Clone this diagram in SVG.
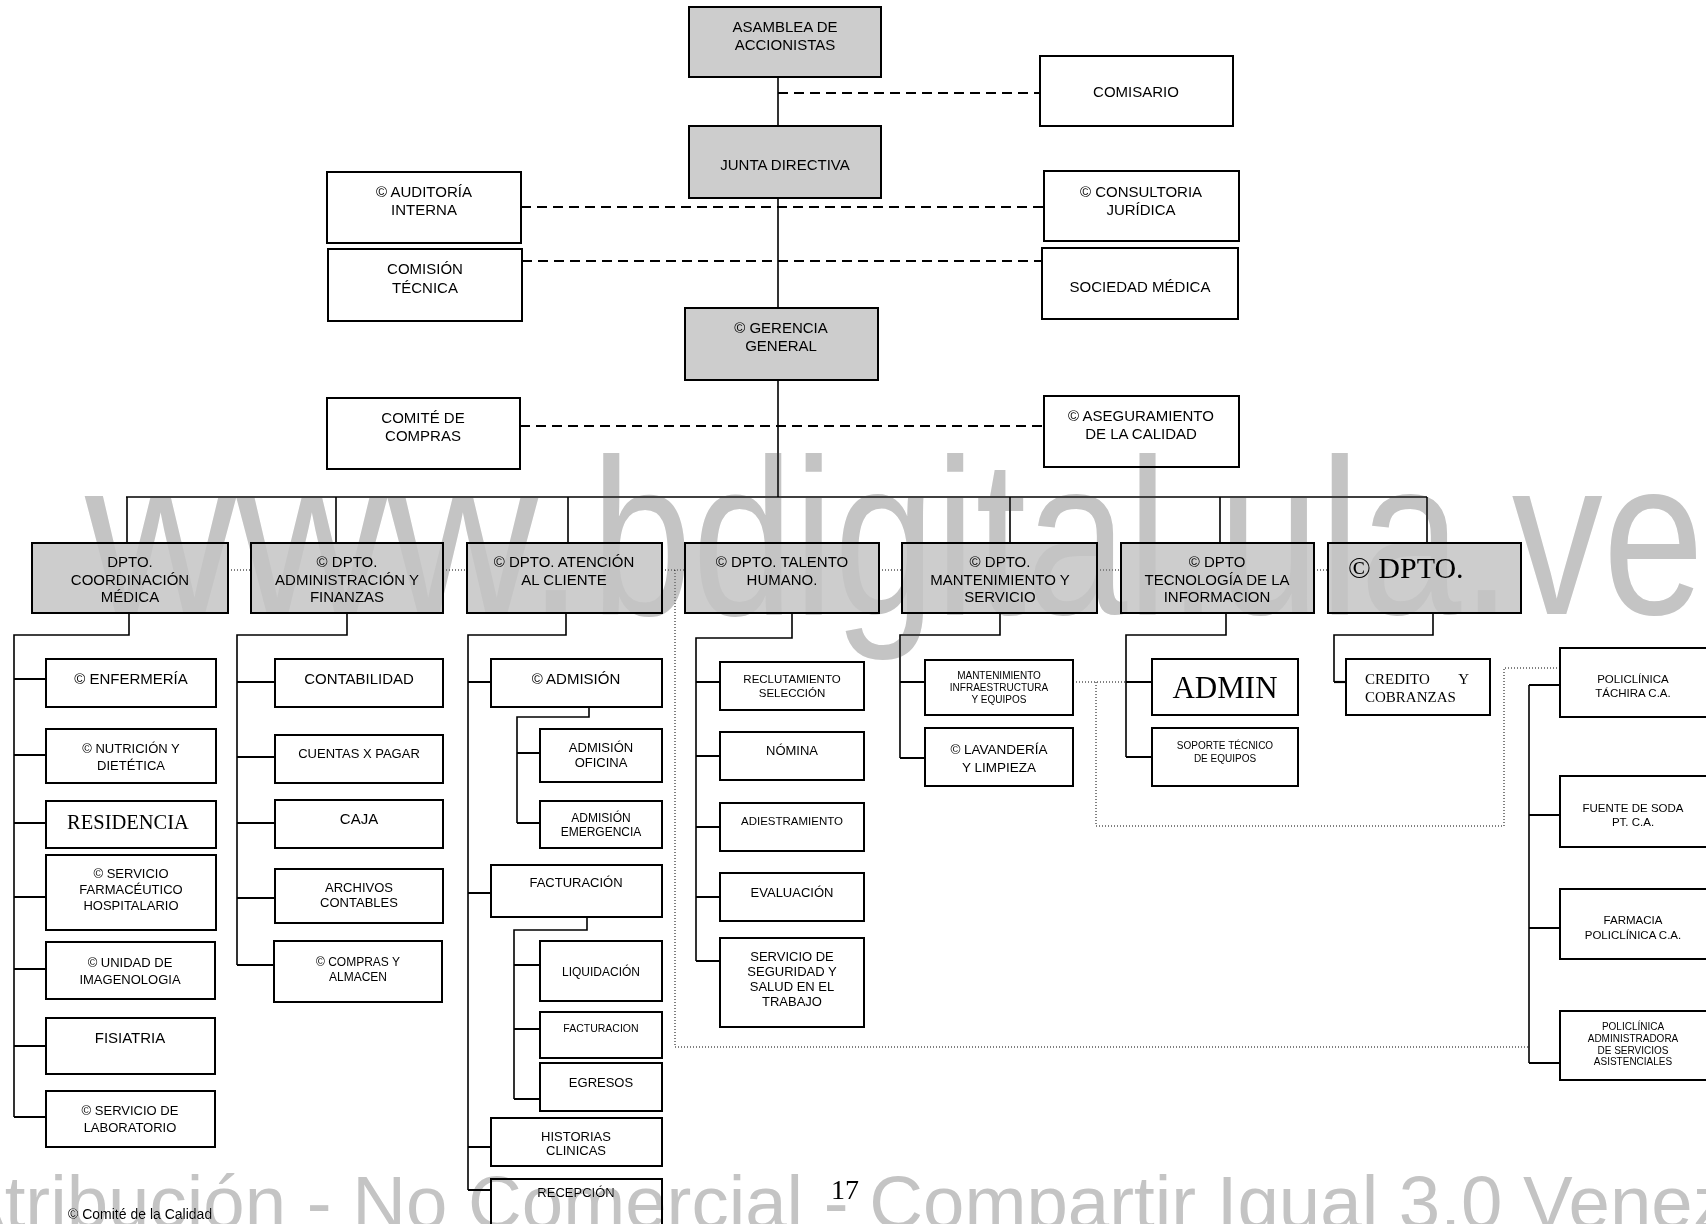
<svg xmlns="http://www.w3.org/2000/svg" width="1706" height="1224" viewBox="0 0 1706 1224">
  <style>
    .box { fill: #ffffff; stroke: #000000; stroke-width: 2; }
    .gbox { fill: #cdcdcd; stroke: #000000; stroke-width: 2; }
    text { font-family: "Liberation Sans", Arial, sans-serif; fill: #000000; text-anchor: middle; }
    .serif { font-family: "Liberation Serif", "Times New Roman", serif; }
    .f15 { font-size: 15px; }
    .f13 { font-size: 13px; }
    .f12 { font-size: 12px; }
    .f115 { font-size: 11.5px; }
    .f10 { font-size: 10px; }
    .ln { stroke: #000000; stroke-width: 1.6; fill: none; }
    .stub { stroke: #000000; stroke-width: 2.2; fill: none; }
    .dash { stroke: #000000; stroke-width: 2; stroke-dasharray: 10 6; fill: none; }
    .dot { stroke: #000000; stroke-width: 1; stroke-dasharray: 1 2; fill: none; }
    .wm { fill: #c4c4c4; text-anchor: start; mix-blend-mode: darken; }
  </style>

  <rect x="0" y="0" width="1706" height="1224" fill="#ffffff"/>

  <!-- connectors -->
  <g id="connectors">
    <!-- main spine and department bus -->
    <path class="ln" d="M778 77 V497 M126 497 H1427 M127 497 V543 M336 497 V543 M568 497 V543 M1010 497 V543 M1220 497 V543 M1427 497 V543"/>
    <!-- staff links -->
    <path class="dash" d="M778 93 H1040 M521 207 H1044 M522 261 H1042 M520 426 H1044"/>
    <!-- links between departments -->
    <path class="dot" d="M228 570 H251 M443 570 H467 M662 570 H685 M879 570 H902 M1097 570 H1121 M1314 570 H1328"/>
    <path class="dot" d="M675 570 V1047 H1528"/>
    <path class="dot" d="M1073 682 H1126 M1096 682 V826 H1504 V668 H1560"/>

    <!-- coordinación médica -->
    <path class="ln" d="M129 613 V635 H14 V1117"/>
    <path class="stub" d="M14 679 H46 M14 755 H46 M14 823 H46 M14 897 H46 M14 969 H46 M14 1046 H46 M14 1117 H46"/>
    <!-- administración y finanzas -->
    <path class="ln" d="M347 613 V635 H237 V965"/>
    <path class="stub" d="M237 682 H275 M237 757 H275 M237 823 H275 M237 898 H275 M237 965 H275"/>
    <!-- atención al cliente -->
    <path class="ln" d="M566 613 V635 H468 V1190"/>
    <path class="stub" d="M468 682 H491 M468 893 H491 M468 1147 H491 M468 1190 H491"/>
    <path class="ln" d="M589 707 V717 H517 V823"/>
    <path class="stub" d="M517 753 H540 M517 823 H540"/>
    <path class="ln" d="M587 917 V930 H514 V1099"/>
    <path class="stub" d="M514 965 H540 M514 1029 H540 M514 1099 H540"/>
    <!-- talento humano -->
    <path class="ln" d="M792 613 V638 H696 V961"/>
    <path class="stub" d="M696 682 H720 M696 756 H720 M696 827 H720 M696 897 H720 M696 961 H720"/>
    <!-- mantenimiento y servicio -->
    <path class="ln" d="M1000 613 V635 H900 V758"/>
    <path class="stub" d="M900 682 H925 M900 758 H925"/>
    <!-- tecnología de la información -->
    <path class="ln" d="M1226 613 V635 H1126 V757"/>
    <path class="stub" d="M1126 682 H1152 M1126 757 H1152"/>
    <!-- dpto. crédito -->
    <path class="ln" d="M1433 613 V635 H1334 V682"/>
    <path class="stub" d="M1334 682 H1346"/>
    <!-- empresas filiales -->
    <path class="ln" d="M1529 685 V1063"/>
    <path class="stub" d="M1529 685 H1560 M1529 815 H1560 M1529 928 H1560 M1529 1063 H1560"/>
  </g>

  <!-- top management -->
  <g id="asamblea"><rect class="gbox" x="689" y="7" width="192" height="70"/>
    <text class="f15" x="785" y="32">ASAMBLEA DE</text><text class="f15" x="785" y="50">ACCIONISTAS</text></g>
  <g id="comisario"><rect class="box" x="1040" y="56" width="193" height="70"/>
    <text class="f15" x="1136" y="97">COMISARIO</text></g>
  <g id="junta"><rect class="gbox" x="689" y="126" width="192" height="72"/>
    <text class="f15" x="785" y="170">JUNTA DIRECTIVA</text></g>
  <g id="auditoria"><rect class="box" x="327" y="172" width="194" height="71"/>
    <text class="f15" x="424" y="197">© AUDITORÍA</text><text class="f15" x="424" y="215">INTERNA</text></g>
  <g id="consultoria"><rect class="box" x="1044" y="171" width="195" height="70"/>
    <text class="f15" x="1141" y="197">© CONSULTORIA</text><text class="f15" x="1141" y="215">JURÍDICA</text></g>
  <g id="comision"><rect class="box" x="328" y="249" width="194" height="72"/>
    <text class="f15" x="425" y="274">COMISIÓN</text><text class="f15" x="425" y="293">TÉCNICA</text></g>
  <g id="sociedad"><rect class="box" x="1042" y="248" width="196" height="71"/>
    <text class="f15" x="1140" y="292">SOCIEDAD MÉDICA</text></g>
  <g id="gerencia"><rect class="gbox" x="685" y="308" width="193" height="72"/>
    <text class="f15" x="781" y="333">© GERENCIA</text><text class="f15" x="781" y="351">GENERAL</text></g>
  <g id="comite-compras"><rect class="box" x="327" y="398" width="193" height="71"/>
    <text class="f15" x="423" y="423">COMITÉ DE</text><text class="f15" x="423" y="441">COMPRAS</text></g>
  <g id="aseguramiento"><rect class="box" x="1044" y="396" width="195" height="71"/>
    <text class="f15" x="1141" y="421">© ASEGURAMIENTO</text><text class="f15" x="1141" y="439">DE LA CALIDAD</text></g>

  <!-- departments -->
  <g id="dpto-coordinacion"><rect class="gbox" x="32" y="543" width="196" height="70"/>
    <text class="f15" x="130" y="567">DPTO.</text><text class="f15" x="130" y="585">COORDINACIÓN</text><text class="f15" x="130" y="602">MÉDICA</text></g>
  <g id="dpto-administracion"><rect class="gbox" x="251" y="543" width="192" height="70"/>
    <text class="f15" x="347" y="567">© DPTO.</text><text class="f15" x="347" y="585">ADMINISTRACIÓN Y</text><text class="f15" x="347" y="602">FINANZAS</text></g>
  <g id="dpto-atencion"><rect class="gbox" x="467" y="543" width="195" height="70"/>
    <text class="f15" x="564" y="567">© DPTO. ATENCIÓN</text><text class="f15" x="564" y="585">AL CLIENTE</text></g>
  <g id="dpto-talento"><rect class="gbox" x="685" y="543" width="194" height="70"/>
    <text class="f15" x="782" y="567">© DPTO. TALENTO</text><text class="f15" x="782" y="585">HUMANO.</text></g>
  <g id="dpto-mantenimiento"><rect class="gbox" x="902" y="543" width="195" height="70"/>
    <text class="f15" x="1000" y="567">© DPTO.</text><text class="f15" x="1000" y="585">MANTENIMIENTO Y</text><text class="f15" x="1000" y="602">SERVICIO</text></g>
  <g id="dpto-tecnologia"><rect class="gbox" x="1121" y="543" width="193" height="70"/>
    <text class="f15" x="1217" y="567">© DPTO</text><text class="f15" x="1217" y="585">TECNOLOGÍA DE LA</text><text class="f15" x="1217" y="602">INFORMACION</text></g>
  <g id="dpto-credito"><rect class="gbox" x="1328" y="543" width="193" height="70"/>
    <text class="serif" x="1348" y="578" font-size="30" style="text-anchor:start">© DPTO.</text></g>

  <!-- coordinación médica units -->
  <g id="enfermeria"><rect class="box" x="46" y="659" width="170" height="48"/>
    <text class="f15" x="131" y="684">© ENFERMERÍA</text></g>
  <g id="nutricion"><rect class="box" x="46" y="729" width="170" height="54"/>
    <text class="f13" x="131" y="753">© NUTRICIÓN Y</text><text class="f13" x="131" y="770">DIETÉTICA</text></g>
  <g id="residencia"><rect class="box" x="46" y="801" width="170" height="47"/>
    <text class="serif" x="128" y="829" font-size="20.5">RESIDENCIA</text></g>
  <g id="farmaceutico"><rect class="box" x="46" y="855" width="170" height="75"/>
    <text class="f13" x="131" y="878">© SERVICIO</text><text class="f13" x="131" y="894">FARMACÉUTICO</text><text class="f13" x="131" y="910">HOSPITALARIO</text></g>
  <g id="imagenologia"><rect class="box" x="46" y="942" width="169" height="57"/>
    <text class="f13" x="130" y="967">© UNIDAD DE</text><text class="f13" x="130" y="984">IMAGENOLOGIA</text></g>
  <g id="fisiatria"><rect class="box" x="46" y="1018" width="169" height="56"/>
    <text class="f15" x="130" y="1043">FISIATRIA</text></g>
  <g id="laboratorio"><rect class="box" x="46" y="1091" width="169" height="56"/>
    <text class="f13" x="130" y="1115">© SERVICIO DE</text><text class="f13" x="130" y="1132">LABORATORIO</text></g>

  <!-- administración y finanzas units -->
  <g id="contabilidad"><rect class="box" x="275" y="659" width="168" height="48"/>
    <text class="f15" x="359" y="684">CONTABILIDAD</text></g>
  <g id="cuentas-pagar"><rect class="box" x="275" y="735" width="168" height="48"/>
    <text class="f13" x="359" y="758">CUENTAS X PAGAR</text></g>
  <g id="caja"><rect class="box" x="275" y="800" width="168" height="48"/>
    <text class="f15" x="359" y="824">CAJA</text></g>
  <g id="archivos"><rect class="box" x="275" y="869" width="168" height="54"/>
    <text class="f13" x="359" y="892">ARCHIVOS</text><text class="f13" x="359" y="907">CONTABLES</text></g>
  <g id="compras-almacen"><rect class="box" x="274" y="941" width="168" height="61"/>
    <text class="f12" x="358" y="966">© COMPRAS Y</text><text class="f12" x="358" y="981">ALMACEN</text></g>

  <!-- atención al cliente units -->
  <g id="admision"><rect class="box" x="491" y="659" width="171" height="48"/>
    <text class="f15" x="576" y="684">© ADMISIÓN</text></g>
  <g id="admision-oficina"><rect class="box" x="540" y="729" width="122" height="53"/>
    <text class="f13" x="601" y="752">ADMISIÓN</text><text class="f13" x="601" y="767">OFICINA</text></g>
  <g id="admision-emergencia"><rect class="box" x="540" y="801" width="122" height="47"/>
    <text class="f12" x="601" y="822">ADMISIÓN</text><text class="f12" x="601" y="836">EMERGENCIA</text></g>
  <g id="facturacion"><rect class="box" x="491" y="865" width="171" height="52"/>
    <text class="f13" x="576" y="887">FACTURACIÓN</text></g>
  <g id="liquidacion"><rect class="box" x="540" y="941" width="122" height="60"/>
    <text class="f12" x="601" y="976">LIQUIDACIÓN</text></g>
  <g id="facturacion-sub"><rect class="box" x="540" y="1012" width="122" height="46"/>
    <text x="601" y="1032" font-size="10.5">FACTURACION</text></g>
  <g id="egresos"><rect class="box" x="540" y="1063" width="122" height="48"/>
    <text class="f13" x="601" y="1087">EGRESOS</text></g>
  <g id="historias"><rect class="box" x="491" y="1118" width="171" height="48"/>
    <text class="f13" x="576" y="1141">HISTORIAS</text><text class="f13" x="576" y="1155">CLINICAS</text></g>
  <g id="recepcion"><rect class="box" x="491" y="1179" width="171" height="50"/>
    <text class="f13" x="576" y="1197">RECEPCIÓN</text></g>

  <!-- talento humano units -->
  <g id="reclutamiento"><rect class="box" x="720" y="662" width="144" height="48"/>
    <text class="f115" x="792" y="683">RECLUTAMIENTO</text><text class="f115" x="792" y="697">SELECCIÓN</text></g>
  <g id="nomina"><rect class="box" x="720" y="732" width="144" height="48"/>
    <text class="f13" x="792" y="755">NÓMINA</text></g>
  <g id="adiestramiento"><rect class="box" x="720" y="803" width="144" height="48"/>
    <text class="f115" x="792" y="825">ADIESTRAMIENTO</text></g>
  <g id="evaluacion"><rect class="box" x="720" y="873" width="144" height="48"/>
    <text class="f13" x="792" y="897">EVALUACIÓN</text></g>
  <g id="seguridad"><rect class="box" x="720" y="938" width="144" height="89"/>
    <text class="f13" x="792" y="961">SERVICIO  DE</text><text class="f13" x="792" y="976">SEGURIDAD Y</text><text class="f13" x="792" y="991">SALUD EN EL</text><text class="f13" x="792" y="1006">TRABAJO</text></g>

  <!-- mantenimiento units -->
  <g id="infraestructura"><rect class="box" x="925" y="660" width="148" height="55"/>
    <text class="f10" x="999" y="679">MANTENIMIENTO</text><text class="f10" x="999" y="691">INFRAESTRUCTURA</text><text class="f10" x="999" y="703">Y EQUIPOS</text></g>
  <g id="lavanderia"><rect class="box" x="925" y="728" width="148" height="58"/>
    <text x="999" y="754" font-size="13.5">© LAVANDERÍA</text><text x="999" y="772" font-size="13.5">Y LIMPIEZA</text></g>

  <!-- tecnología units -->
  <g id="admin"><rect class="box" x="1152" y="659" width="146" height="56"/>
    <text class="serif" x="1225" y="698" font-size="31">ADMIN</text></g>
  <g id="soporte"><rect class="box" x="1152" y="728" width="146" height="58"/>
    <text class="f10" x="1225" y="749">SOPORTE TÉCNICO</text><text class="f10" x="1225" y="762">DE EQUIPOS</text></g>

  <!-- crédito units -->
  <g id="credito"><rect class="box" x="1346" y="659" width="144" height="56"/>
    <text class="serif" x="1365" y="684" font-size="15" style="text-anchor:start">CREDITO</text>
    <text class="serif" x="1469" y="684" font-size="15" style="text-anchor:end">Y</text>
    <text class="serif" x="1365" y="702" font-size="15" style="text-anchor:start">COBRANZAS</text></g>

  <!-- affiliated companies -->
  <g id="policlinica-tachira"><rect class="box" x="1560" y="648" width="152" height="69"/>
    <text class="f115" x="1633" y="683">POLICLÍNICA</text><text class="f115" x="1633" y="697">TÁCHIRA C.A.</text></g>
  <g id="fuente-soda"><rect class="box" x="1560" y="776" width="152" height="71"/>
    <text class="f115" x="1633" y="812">FUENTE DE SODA</text><text class="f115" x="1633" y="826">PT. C.A.</text></g>
  <g id="farmacia"><rect class="box" x="1560" y="889" width="152" height="70"/>
    <text class="f115" x="1633" y="924">FARMACIA</text><text class="f115" x="1633" y="939">POLICLÍNICA C.A.</text></g>
  <g id="policlinica-administradora"><rect class="box" x="1560" y="1011" width="152" height="69"/>
    <text class="f10" x="1633" y="1030">POLICLÍNICA</text><text class="f10" x="1633" y="1042">ADMINISTRADORA</text><text class="f10" x="1633" y="1054">DE SERVICIOS</text><text class="f10" x="1633" y="1065">ASISTENCIALES</text></g>

  <!-- page footer -->
  <g id="footer">
    <text x="68" y="1219" font-size="14" style="text-anchor:start">© Comité de la Calidad</text>
    <text class="serif" x="845" y="1199" font-size="28">17</text>
  </g>

  <!-- repository stamp -->
  <g id="stamp">
    <text class="wm" x="85" y="614" font-size="222" textLength="500" lengthAdjust="spacingAndGlyphs">www.</text>
    <text class="wm" x="591" y="614" font-size="222" textLength="1113" lengthAdjust="spacingAndGlyphs">bdigital.ula.ve</text>
    <text class="wm" x="-45" y="1228" font-size="74" textLength="1775" lengthAdjust="spacingAndGlyphs">Atribución - No Comercial - Compartir Igual 3.0 Venez</text>
  </g>
</svg>
